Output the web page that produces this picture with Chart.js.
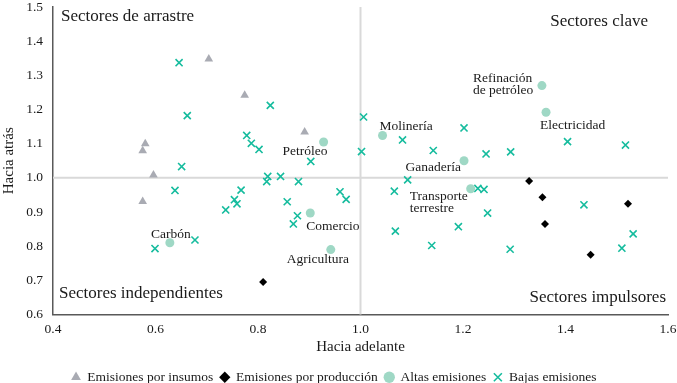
<!DOCTYPE html>
<html>
<head>
<meta charset="utf-8">
<script src="https://cdn.jsdelivr.net/npm/chart.js@4"></script>
<style>
  html, body { margin: 0; padding: 0; background: #fff; }
  #wrap { width: 677px; height: 383px; }
</style>
</head>
<body>
<div id="wrap"><canvas id="grafico"></canvas></div>
<script>
// --- Datos ---
const SERIES = ["Emisiones por insumos", "Emisiones por producción", "Altas emisiones", "Bajas emisiones"];

const insumosX = [0.704, 0.774, 0.891, 0.580, 0.575, 0.596, 0.575];
const insumosY = [1.348, 1.242, 1.134, 1.100, 1.079, 1.008, 0.931];

const produccionX = [0.810, 1.329, 1.355, 1.522, 1.360, 1.449];
const produccionY = [0.695, 0.991, 0.943, 0.924, 0.865, 0.775];

const altasNombres = ["Refinación de petróleo", "Electricidad", "Petróleo", "Molinería", "Ganadería",
  "Transporte terrestre", "Comercio", "Carbón", "Agricultura"];
const altasX = [1.354, 1.362, 0.928, 1.043, 1.202, 1.215, 0.902, 0.628, 0.942];
const altasY = [1.270, 1.192, 1.105, 1.124, 1.050, 0.968, 0.897, 0.810, 0.790];

const bajasX = [0.646, 0.662, 0.824, 0.778, 0.787, 0.802, 0.903, 0.651, 0.638, 0.767, 0.754, 0.759,
  0.737, 0.819, 0.817, 0.844, 0.879, 0.857, 0.877, 0.869, 0.960, 0.972, 0.599, 0.677,
  1.006, 1.002, 1.082, 1.142, 1.202, 1.245, 1.293, 1.404, 1.517,
  1.092, 1.066, 1.229, 1.241, 1.248, 1.191, 1.068, 1.139, 1.292, 1.436, 1.532, 1.510];
const bajasY = [1.337, 1.182, 1.212, 1.124, 1.101, 1.083, 1.048, 1.033, 0.963, 0.964, 0.936, 0.924,
  0.906, 1.004, 0.989, 1.004, 0.989, 0.930, 0.889, 0.865, 0.959, 0.937, 0.793, 0.818,
  1.178, 1.077, 1.111, 1.080, 1.146, 1.070, 1.076, 1.106, 1.096,
  0.994, 0.961, 0.969, 0.966, 0.897, 0.857, 0.844, 0.802, 0.791, 0.921, 0.836, 0.794];

const CUADRANTES = ["Sectores de arrastre", "Sectores clave", "Sectores independientes", "Sectores impulsores"];

// --- Estilo ---
const FUENTE = "'Liberation Serif', 'Times New Roman', serif";
const COLORES = {
  INSUMOS: "#a9abb3",
  PRODUCCION: "#000000",
  ALTAS: "#9fd8c5",
  BAJAS: "#16bc9e",
  REFERENCIA: "#d9d9d9",
  EJE: "#595959",
  TEXTO: "#1a1a1a",
};

// posición de cada etiqueta respecto a su punto (px)
const ETIQUETAS_POS = [
  { align: "left", dx: -69, dy: -7.5, lh: 12.5 },
  { align: "left", dx: -6, dy: 13 },
  { align: "right", dx: 4, dy: 9.5 },
  { align: "left", dx: -3, dy: -9 },
  { align: "right", dx: -3, dy: 7 },
  { align: "left", dx: -61, dy: 7.7, lh: 12 },
  { align: "left", dx: -4, dy: 13.4 },
  { align: "center", dx: 1, dy: -8 },
  { align: "center", dx: -13, dy: 10 },
];

function puntos(xs, ys) {
  return xs.map((x, i) => ({ x: x, y: ys[i] }));
}

function partirNombre(nombre) {
  if (nombre === "Refinación de petróleo") return ["Refinación", "de petróleo"];
  if (nombre === "Transporte terrestre") return ["Transporte", "terrestre"];
  return [nombre];
}

const lineasReferencia = {
  id: "lineasReferencia",
  beforeDatasetsDraw(chart) {
    const { ctx, chartArea, scales } = chart;
    const px = scales.x.getPixelForValue(1);
    const py = scales.y.getPixelForValue(1);
    ctx.save();
    ctx.strokeStyle = COLORES.REFERENCIA;
    ctx.lineWidth = 2;
    ctx.beginPath();
    ctx.moveTo(px, chartArea.top);
    ctx.lineTo(px, chartArea.bottom);
    ctx.moveTo(chartArea.left, py);
    ctx.lineTo(chartArea.right, py);
    ctx.stroke();
    ctx.restore();
  },
};

const textos = {
  id: "textos",
  afterDatasetsDraw(chart) {
    const { ctx, chartArea } = chart;
    ctx.save();
    ctx.fillStyle = COLORES.TEXTO;
    ctx.textBaseline = "middle";

    // cuadrantes
    ctx.font = "17px " + FUENTE;
    ctx.textAlign = "left";
    ctx.fillText(CUADRANTES[0], chartArea.left + 8, chartArea.top + 9.5);
    ctx.fillText(CUADRANTES[2], chartArea.left + 6, chartArea.bottom - 20.5);
    ctx.textAlign = "right";
    ctx.fillText(CUADRANTES[1], chartArea.right - 20, chartArea.top + 14.5);
    ctx.fillText(CUADRANTES[3], chartArea.right - 2, chartArea.bottom - 17);

    // nombres de los sectores de altas emisiones
    ctx.font = "13.5px " + FUENTE;
    const meta = chart.getDatasetMeta(2);
    meta.data.forEach((p, i) => {
      const pos = ETIQUETAS_POS[i];
      const lineas = partirNombre(altasNombres[i]);
      ctx.textAlign = pos.align;
      lineas.forEach((t, j) => {
        ctx.fillText(t, p.x + pos.dx, p.y + pos.dy + j * (pos.lh || 0));
      });
    });
    ctx.restore();
  },
};

function crearGrafico() {
  const ctx = document.getElementById("grafico").getContext("2d");
  new Chart(ctx, {
    type: "scatter",
    data: {
      datasets: [
        {
          label: SERIES[0],
          data: puntos(insumosX, insumosY),
          pointStyle: "triangle",
          pointRadius: 5,
          backgroundColor: COLORES.INSUMOS,
          borderColor: COLORES.INSUMOS,
          borderWidth: 0,
        },
        {
          label: SERIES[1],
          data: puntos(produccionX, produccionY),
          pointStyle: "rectRot",
          pointRadius: 4,
          backgroundColor: COLORES.PRODUCCION,
          borderColor: COLORES.PRODUCCION,
          borderWidth: 0,
        },
        {
          label: SERIES[2],
          data: puntos(altasX, altasY),
          pointStyle: "circle",
          pointRadius: 4.5,
          backgroundColor: COLORES.ALTAS,
          borderColor: COLORES.ALTAS,
          borderWidth: 0,
        },
        {
          label: SERIES[3],
          data: puntos(bajasX, bajasY),
          pointStyle: "crossRot",
          pointRadius: 5,
          backgroundColor: COLORES.BAJAS,
          borderColor: COLORES.BAJAS,
          borderWidth: 1.6,
        },
      ],
    },
    options: {
      responsive: true,
      maintainAspectRatio: false,
      animation: false,
      layout: { padding: { left: 0, right: 9, top: 0, bottom: -11 } },
      scales: {
        x: {
          type: "linear",
          min: 0.4,
          max: 1.6,
          grid: { display: false, drawTicks: false },
          border: { display: true, color: COLORES.EJE, width: 1.5 },
          ticks: {
            stepSize: 0.2,
            padding: 7,
            color: COLORES.TEXTO,
            font: { family: FUENTE, size: 13.5 },
            callback: (v) => v.toFixed(1),
          },
          title: {
            display: true,
            text: "Hacia adelante",
            color: COLORES.TEXTO,
            font: { family: FUENTE, size: 15 },
            padding: { top: 0, bottom: 7.5 },
          },
          afterFit(scale) {
            scale.height = 49;
            scale.paddingLeft = 0;
            scale.paddingRight = 0;
          },
        },
        y: {
          type: "linear",
          min: 0.6,
          max: 1.5,
          grid: { display: false, drawTicks: false },
          border: { display: true, color: COLORES.EJE, width: 1.5 },
          ticks: {
            stepSize: 0.1,
            padding: 10,
            color: COLORES.TEXTO,
            font: { family: FUENTE, size: 13.5 },
            callback: (v) => v.toFixed(1),
          },
          title: {
            display: true,
            text: "Hacia atrás",
            color: COLORES.TEXTO,
            font: { family: FUENTE, size: 15 },
            padding: { top: 0, bottom: 0 },
          },
          afterFit(scale) {
            scale.width = 53;
            scale.paddingTop = 7;
            scale.paddingBottom = 7;
          },
        },
      },
      plugins: {
        legend: {
          display: true,
          position: "bottom",
          labels: {
            usePointStyle: true,
            boxWidth: 9,
            boxHeight: 8,
            padding: 7,
            color: COLORES.TEXTO,
            font: { family: FUENTE, size: 13.5 },
          },
        },
        tooltip: { enabled: false },
      },
    },
    plugins: [lineasReferencia, textos],
  });
}

document.addEventListener("DOMContentLoaded", crearGrafico);
</script>
</body>
</html>
